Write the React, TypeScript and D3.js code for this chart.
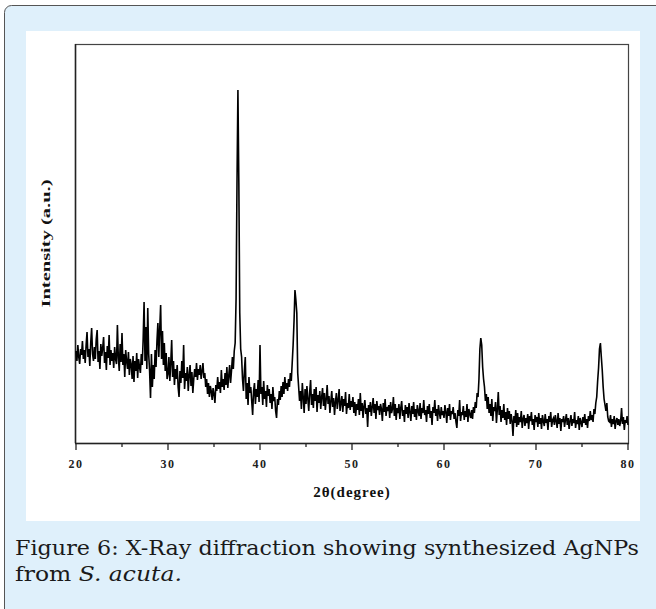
import * as d3 from 'd3'
import React from 'react'

// x-ray diffraction pattern at 0.1 deg steps (one row per degree)
const angleStart = 20
const angleStep = 0.1
const counts = [
  98, 88, 104, 92, 85, 100, 94, 108, 90, 99,
  86, 104, 117, 92, 100, 83, 106, 121, 95, 88,
  102, 90, 110, 119, 87, 98, 80, 105, 93, 101,
  112, 86, 97, 79, 103, 91, 114, 84, 99, 88,
  96, 81, 102, 90, 85, 124, 92, 78, 105, 87,
  116, 84, 95, 72, 99, 88, 80, 97, 74, 90,
  85, 70, 93, 67, 88, 78, 96, 71, 90, 82,
  76, 95, 84, 110, 147, 88, 122, 80, 141, 95,
  78, 51, 95, 62, 84, 70, 99, 82, 108, 126,
  92, 120, 144, 90, 118, 84, 106, 78, 96, 70,
  75, 92, 68, 86, 109, 72, 88, 64, 80, 70,
  84, 62, 52, 78, 66, 88, 71, 104, 60, 76,
  68, 82, 58, 74, 84, 63, 77, 56, 70, 80,
  72, 86, 69, 80, 74, 84, 70, 78, 86, 71,
  76, 62, 70, 55, 66, 52, 63, 58, 49, 61,
  55, 46, 64, 58, 72, 60, 67, 56, 79, 62,
  70, 59, 76, 64, 82, 61, 73, 84, 66, 78,
  92, 80, 98, 106, 150, 266, 359, 266, 136, 100,
  92, 70, 58, 78, 92, 50, 66, 44, 72, 56,
  62, 48, 34, 58, 66, 45, 60, 52, 69, 47,
  104, 55, 62, 44, 68, 50, 58, 42, 64, 53,
  60, 46, 55, 40, 62, 48, 52, 38, 31, 50,
  44, 58, 49, 63, 52, 67, 55, 72, 60, 66,
  58, 70, 62, 76, 68, 86, 104, 128, 159, 149,
  136, 76, 62, 48, 58, 40, 66, 52, 36, 60,
  45, 63, 50, 38, 57, 69, 44, 55, 41, 60,
  48, 62, 37, 54, 46, 58, 40, 52, 61, 43,
  56, 39, 50, 64, 45, 53, 36, 48, 58, 42,
  51, 34, 47, 56, 40, 49, 60, 38, 46, 53,
  37, 50, 43, 57, 35, 46, 41, 55, 39, 48,
  42, 52, 36, 47, 33, 45, 39, 50, 34, 56,
  38, 46, 31, 43, 49, 35, 41, 22, 44, 37,
  47, 33, 42, 51, 36, 45, 30, 48, 39, 43,
  34, 45, 40, 28, 46, 37, 50, 33, 42, 38,
  44, 31, 47, 36, 40, 52, 33, 45, 29, 41,
  36, 45, 30, 41, 48, 33, 39, 27, 44, 35,
  42, 31, 46, 37, 28, 43, 35, 47, 32, 40,
  29, 44, 38, 33, 46, 30, 41, 36, 49, 34,
  39, 27, 43, 35, 45, 31, 38, 24, 42, 36,
  49, 33, 40, 28, 44, 36, 30, 42, 34, 38,
  31, 44, 37, 26, 41, 33, 45, 29, 38, 35,
  42, 30, 36, 27, 21, 39, 33, 49, 28, 37,
  34, 43, 29, 38, 32, 45, 27, 40, 35, 31,
  39, 30, 42, 36, 47, 41, 56, 52, 70, 100,
  111, 104, 82, 70, 62, 48, 55, 40, 52, 36,
  45, 33, 50, 28, 42, 38, 47, 26, 40, 57,
  34, 43, 27, 39, 31, 45, 29, 37, 24, 41,
  30, 38, 25, 35, 28, 13, 33, 26, 39, 22,
  36, 24, 32, 27, 38, 21, 30, 34, 23, 31,
  26, 35, 20, 33, 28, 37, 24, 30, 19, 34,
  27, 32, 22, 36, 25, 31, 20, 34, 28, 23,
  35, 26, 30, 19, 33, 27, 37, 22, 29, 31,
  24, 34, 28, 21, 36, 25, 31, 18, 30, 27,
  33, 22, 29, 35, 24, 31, 20, 28, 34, 23,
  30, 26, 37, 21, 29, 25, 33, 19, 31, 27,
  22, 32, 26, 35, 24, 30, 21, 33, 28, 38,
  29, 34, 27, 40, 35, 46, 52, 68, 81, 100,
  106, 92, 79, 62, 50, 44, 38, 46, 32, 28,
  27, 34, 22, 30, 25, 33, 20, 28, 31, 24,
  30, 23, 28, 41, 25, 32, 19, 29, 26, 33,
  24,
]

const xTicks = [20, 30, 40, 50, 60, 70, 80]
const xMinorTicks = [25, 35, 45, 55, 65, 75]

const serif = "'Liberation Serif', 'Times New Roman', serif"
const captionFont = "'DejaVu Serif', serif"

export default function App() {
  const width = 656
  const height = 609
  const left = 76
  const right = 628
  const top = 44
  const bottom = 443

  const x = d3.scaleLinear().domain([20, 80]).range([left, right])
  const y = d3.scaleLinear().domain([6, 405]).range([bottom, top])

  const points: [number, number][] = counts.map((c, i) => [angleStart + i * angleStep, c])
  const line = d3
    .line<[number, number]>()
    .x(d => x(d[0]))
    .y(d => y(d[1]))

  return (
    <svg
      width={width}
      height={height}
      style={{ position: 'absolute', left: 0, top: 0 }}
    >
      {/* caption panel */}
      <rect x={4.5} y={5.5} width={670} height={640} rx={7} fill="#dff0fb" stroke="#555" />
      <rect x={26} y={31} width={614} height={490} fill="#fff" />

      {/* plot frame */}
      <rect
        x={left - 0.5}
        y={top + 0.5}
        width={right - left + 1}
        height={bottom - top}
        fill="none"
        stroke="#444"
        strokeWidth={1.2}
      />
      <line x1={left - 0.5} x2={left - 0.5} y1={top} y2={bottom} stroke="#222" strokeWidth={1.5} />
      <line x1={left - 1} x2={right + 1} y1={bottom + 0.5} y2={bottom + 0.5} stroke="#222" strokeWidth={1.5} />

      {xTicks.map(t => (
        <g key={t}>
          <line x1={x(t)} x2={x(t)} y1={bottom} y2={bottom + 7} stroke="#222" strokeWidth={1.3} />
          <text
            x={x(t)}
            y={468}
            textAnchor="middle"
            fontFamily={serif}
            fontWeight="bold"
            fontSize={12}
            letterSpacing={1.5}
            fill="#222"
          >
            {t}
          </text>
        </g>
      ))}
      {xMinorTicks.map(t => (
        <line key={t} x1={x(t)} x2={x(t)} y1={bottom} y2={bottom + 4} stroke="#222" strokeWidth={1.3} />
      ))}

      <text
        x={(left + right) / 2}
        y={497}
        textAnchor="middle"
        fontFamily={serif}
        fontWeight="bold"
        fontSize={15}
        letterSpacing={1}
        fill="#111"
      >
        2θ(degree)
      </text>

      <text
        transform={`translate(50,${(top + bottom) / 2}) rotate(-90)`}
        textAnchor="middle"
        fontFamily={serif}
        fontWeight="bold"
        fontSize={13}
        textLength={128}
        lengthAdjust="spacingAndGlyphs"
        fill="#111"
      >
        Intensity (a.u.)
      </text>

      <path d={line(points) ?? ''} fill="none" stroke="#000" strokeWidth={1.6} strokeLinejoin="miter" />

      {/* figure caption */}
      <text
        x={15}
        y={555}
        fontFamily={captionFont}
        fontSize={21}
        textLength={624}
        lengthAdjust="spacingAndGlyphs"
        fill="#1a1a1a"
      >
        Figure 6: X-Ray diffraction showing synthesized AgNPs
      </text>
      <text
        x={15}
        y={581}
        fontFamily={captionFont}
        fontSize={21}
        textLength={167}
        lengthAdjust="spacingAndGlyphs"
        fill="#1a1a1a"
      >
        from <tspan fontStyle="italic">S. acuta.</tspan>
      </text>
    </svg>
  )
}
